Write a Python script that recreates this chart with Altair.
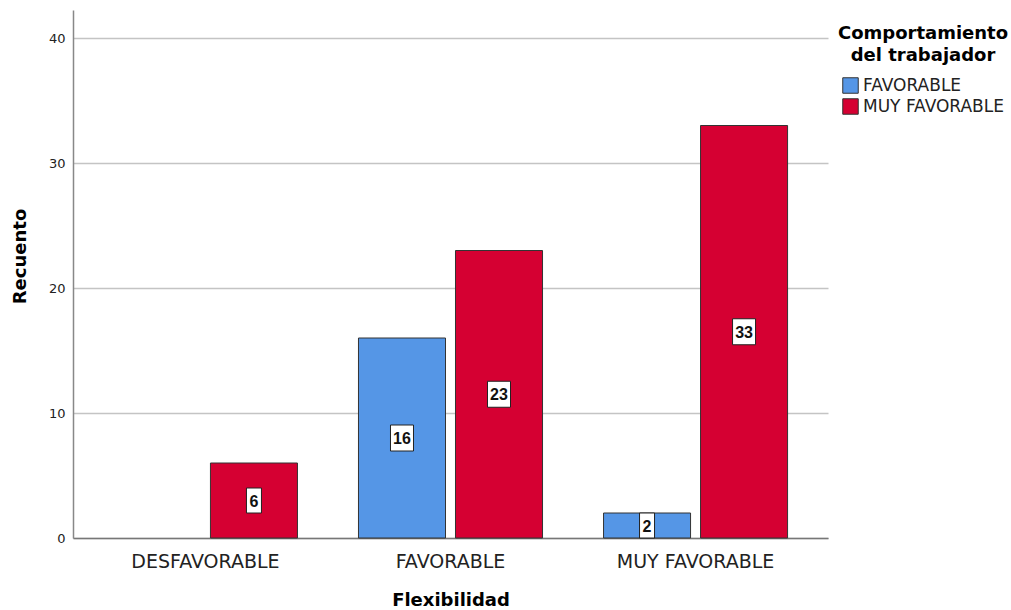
import altair as alt
import pandas as pd

flex = ["DESFAVORABLE", "FAVORABLE", "MUY FAVORABLE"]
comp = ["FAVORABLE", "MUY FAVORABLE"]
counts_favorable = [0, 16, 2]
counts_muy_favorable = [6, 23, 33]
colors = ["#5596e6", "#d50032"]
y_ticks = [0, 10, 20, 30, 40]

rows = []
for i, f in enumerate(flex):
    for c, vals in zip(comp, [counts_favorable, counts_muy_favorable]):
        v = vals[i]
        if v > 0:
            rows.append({"Flexibilidad": f, "Comportamiento": c, "Recuento": v})
df = pd.DataFrame(rows)

BOX1 = "M-0.75,-1.25L0.75,-1.25L0.75,1.25L-0.75,1.25Z"
BOX2 = "M-1.15,-1.3L1.15,-1.3L1.15,1.3L-1.15,1.3Z"

x_enc = alt.X(
    "Flexibilidad:N",
    sort=flex,
    scale=alt.Scale(domain=flex, paddingInner=0.249, paddingOuter=0.165),
    axis=alt.Axis(
        title="Flexibilidad",
        labelAngle=0,
        ticks=False,
        tickSize=0,
        labelPadding=29,
        labelBaseline="alphabetic",
        labelFont="DejaVu Sans",
        labelFontSize=19,
        labelColor="#222222",
        titleFont="DejaVu Sans",
        titleFontWeight="bold",
        titleFontSize=18,
        titleColor="#000000",
        titleBaseline="alphabetic",
        titleY=67,
        domainColor="#777777",
        domainWidth=1.5,
        grid=False,
    ),
)
xo_enc = alt.XOffset(
    "Comportamiento:N",
    sort=comp,
    scale=alt.Scale(domain=comp, paddingInner=0.103, paddingOuter=0),
)

bars = alt.Chart(df).mark_bar(stroke="#333333", strokeWidth=1).encode(
    x=x_enc,
    xOffset=xo_enc,
    y=alt.Y(
        "Recuento:Q",
        scale=alt.Scale(domain=[0, 42.24], nice=False, zero=True),
        axis=alt.Axis(
            title="Recuento",
            values=y_ticks,
            ticks=False,
            tickSize=0,
            labelPadding=8,
            labelFont="DejaVu Sans",
            labelFontSize=13,
            labelColor="#222222",
            titleFont="DejaVu Sans",
            titleFontWeight="bold",
            titleFontSize=18,
            titleColor="#000000",
            titleX=-53,
            titleY=246,
            titleBaseline="middle",
            domainColor="#888888",
            domainWidth=1.5,
            grid=True,
            gridColor="#c4c4c4",
            gridWidth=1.4,
        ),
    ),
    color=alt.Color(
        "Comportamiento:N",
        sort=comp,
        scale=alt.Scale(domain=comp, range=colors),
        legend=alt.Legend(
            title=["Comportamiento", "del trabajador"],
            orient="none",
            legendX=765,
            legendY=15,
            titleAnchor="middle",
            titleAlign="center",
            titleFont="DejaVu Sans",
            titleFontWeight="bold",
            titleFontSize=18,
            titleColor="#000000",
            titleLineHeight=22,
            titlePadding=12,
            labelFont="DejaVu Sans",
            labelFontSize=17,
            labelColor="#222222",
            labelOffset=4,
            symbolType="square",
            symbolSize=240,
            symbolStrokeColor="#333333",
            symbolStrokeWidth=1,
            symbolOpacity=1,
            rowPadding=0,
        ),
    ),
)

label_base = alt.Chart(df).transform_calculate(
    mid="datum.Recuento / 2",
    box=f"datum.Recuento < 10 ? '{BOX1}' : '{BOX2}'",
    txt="'' + datum.Recuento",
)

boxes = label_base.mark_point(
    filled=True, fill="white", stroke="#222222", strokeWidth=1, opacity=1, size=400
).encode(
    x=x_enc,
    xOffset=xo_enc,
    y=alt.Y("mid:Q"),
    shape=alt.Shape("box:N", scale=None, legend=None),
)

texts = label_base.mark_text(
    font="Liberation Sans",
    fontWeight="bold",
    fontSize=16,
    color="#111111",
    baseline="middle",
    dy=1,
).encode(
    x=x_enc,
    xOffset=xo_enc,
    y=alt.Y("mid:Q"),
    text="txt:N",
)

chart = (
    alt.layer(bars, boxes, texts)
    .properties(
        width=755,
        height=528,
        padding={"left": 73, "top": 10, "right": 183, "bottom": 72},
        autosize=alt.AutoSizeParams(type="none"),
        background="white",
    )
    .configure_view(stroke=None)
)

chart.save("out.html", embed_options={"renderer": "svg", "actions": False})
